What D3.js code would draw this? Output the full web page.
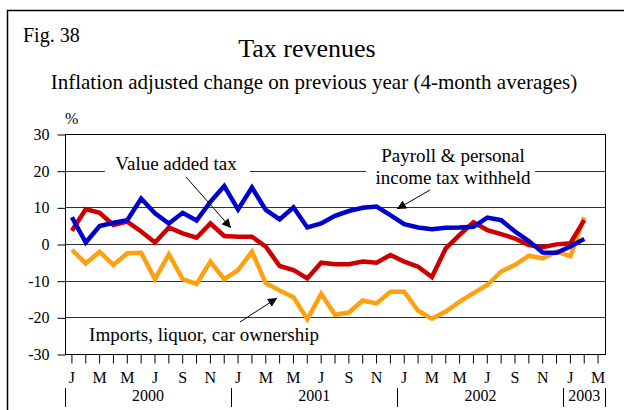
<!DOCTYPE html>
<html>
<head>
<meta charset="utf-8">
<script src="https://cdn.jsdelivr.net/npm/d3@7"></script>
<style>
  body { margin: 0; background: #fff; }
  svg text { font-family: "Liberation Serif", "Times New Roman", serif; fill: #000; }
</style>
</head>
<body>
<div class="chart"></div>
<script>
// months Jan 2000 .. Mar 2003
var monthLetters = ["J", "F", "M", "A", "M", "J", "J", "A", "S", "O", "N", "D"];
var years = ["2000", "2001", "2002", "2003"];
var yTicks = [-30, -20, -10, 0, 10, 20, 30];

// Payroll & personal income tax withheld (blue)
var payroll = [7.3, 0.4, 4.9, 5.8, 6.5, 12.4, 8.4, 5.6, 8.5, 6.4, 11.5, 15.8,
    9.4, 15.4, 9.3, 6.7, 10, 4.5, 5.6, 7.7, 9, 9.9, 10.2, 7.9,
    5.4, 4.5, 4, 4.4, 4.5, 4.7, 7.2, 6.5, 3.4, 0.8, -2.3, -2.4,
    -0.7, 1.4, null];

// Value added tax (red)
var vat = [3.6, 9.5, 8.5, 5.2, 6.1, 3.4, 0.4, 4.5, 2.9, 1.7, 5.6, 2.2,
    2, 2, -0.7, -6, -7.1, -9.4, -5.1, -5.5, -5.5, -4.8, -5.1, -3,
    -4.8, -6.2, -9, -1.2, 2.5, 5.9, 3.8, 2.7, 1.5, -0.3, -0.9, -0.1,
    0.2, 6.5, null];

// Imports, liquor, car ownership (orange)
var imports = [-1.6, -5.3, -2.1, -5.7, -2.5, -2.4, -9.6, -2.8, -9.6, -10.9, -4.8, -9.6,
    -7.1, -2.1, -10.7, -12.7, -14.5, -20.5, -13.6, -19.3, -18.7, -15.4, -16.2, -13,
    -13, -18.2, -20.4, -18.4, -15.7, -13.4, -11.2, -7.5, -5.7, -3.2, -3.9, -2.1,
    -3.3, 7.3, null];

var months = d3.range(payroll.length);
var serif = "'Liberation Serif', 'Times New Roman', serif";

var width = 624, height = 410;
var margin = { top: 134, right: 19, bottom: 56, left: 65 };

var svg = d3.select(".chart").append("svg")
    .attr("width", width)
    .attr("height", height);

// outer frame (right and bottom edges fall outside the picture)
svg.append("rect")
    .attr("x", 7.5).attr("y", 10.5)
    .attr("width", 640).attr("height", 420)
    .attr("fill", "none").attr("stroke", "#000").attr("stroke-width", 1.5);

svg.append("text").attr("x", 23).attr("y", 42)
    .attr("font-size", 20).text("Fig. 38");
svg.append("text").attr("x", 307).attr("y", 57)
    .attr("text-anchor", "middle").attr("font-size", 26).text("Tax revenues");
svg.append("text").attr("x", 314).attr("y", 89)
    .attr("text-anchor", "middle").attr("font-size", 21)
    .text("Inflation adjusted change on previous year (4-month averages)");
svg.append("text").attr("x", 65).attr("y", 124)
    .attr("font-size", 16).text("%");

var x = d3.scaleBand()
    .domain(months)
    .range([margin.left, width - margin.right]);

var y = d3.scaleLinear()
    .domain([-30, 30])
    .range([height - margin.bottom, margin.top]);

// gridlines
svg.append("g").selectAll("line")
    .data(yTicks.filter(function(d) { return d > -30 && d < 30; }))
    .enter().append("line")
    .attr("x1", margin.left).attr("x2", width - margin.right)
    .attr("y1", function(d) { return Math.round(y(d)) + 0.5; })
    .attr("y2", function(d) { return Math.round(y(d)) + 0.5; })
    .attr("stroke", "#333").attr("stroke-width", 1);

// plot frame
svg.append("rect")
    .attr("x", margin.left + 0.5).attr("y", margin.top + 0.5)
    .attr("width", width - margin.right - margin.left)
    .attr("height", height - margin.bottom - margin.top)
    .attr("fill", "none").attr("stroke", "#000");

// y axis (plain hyphen for negatives, as in the original)
var yAxis = svg.append("g")
    .attr("transform", "translate(" + (margin.left + 0.5) + ",0.5)")
    .call(d3.axisLeft(y).tickValues(yTicks).tickSize(8).tickPadding(8)
        .tickFormat(function(d) { return String(d); }));
yAxis.attr("font-family", null);
yAxis.select(".domain").remove();
yAxis.selectAll("text").attr("font-size", 16).style("font-family", serif);

// x axis: a tick each month, a letter every other month
var xAxis = svg.append("g")
    .attr("transform", "translate(0," + (height - margin.bottom + 0.5) + ")")
    .call(d3.axisBottom(x).tickSize(9).tickPadding(8)
        .tickFormat(function(d) { return d % 2 === 0 ? monthLetters[d % 12] : ""; }));
xAxis.attr("font-family", null);
xAxis.select(".domain").remove();
xAxis.selectAll("text").attr("font-size", 16).style("font-family", serif);

// year labels and separators
var yearSpans = years.map(function(yr, i) {
    var first = i * 12, last = Math.min(i * 12 + 11, months.length - 1);
    return { year: yr, x0: x(first), x1: x(last) + x.bandwidth() };
});

svg.append("g").selectAll("text")
    .data(yearSpans).enter().append("text")
    .attr("x", function(d) { return (d.x0 + d.x1) / 2; })
    .attr("y", 401)
    .attr("text-anchor", "middle").attr("font-size", 16)
    .text(function(d) { return d.year; });

var seps = yearSpans.map(function(d) { return d.x0; });
seps.push(yearSpans[yearSpans.length - 1].x1);
svg.append("g").selectAll("line")
    .data(seps).enter().append("line")
    .attr("x1", function(d) { return Math.round(d) + 0.5; })
    .attr("x2", function(d) { return Math.round(d) + 0.5; })
    .attr("y1", 388).attr("y2", 407)
    .attr("stroke", "#000");

// series
var line = d3.line()
    .defined(function(d) { return d !== null; })
    .x(function(d, i) { return x(i) + x.bandwidth() / 2; })
    .y(function(d) { return y(d); });

var series = [
    { values: imports, color: "#FFA010" },
    { values: vat, color: "#CC0000" },
    { values: payroll, color: "#0000CC" }
];

svg.append("g").selectAll("path")
    .data(series).enter().append("path")
    .attr("d", function(d) { return line(d.values); })
    .attr("fill", "none")
    .attr("stroke", function(d) { return d.color; })
    .attr("stroke-width", 4.5)
    .attr("stroke-linejoin", "miter");

// annotations
svg.append("defs").append("marker")
    .attr("id", "arrow")
    .attr("viewBox", "0 0 10 10")
    .attr("refX", 10).attr("refY", 5)
    .attr("markerWidth", 11).attr("markerHeight", 9)
    .attr("markerUnits", "userSpaceOnUse")
    .attr("orient", "auto")
    .append("path").attr("d", "M0,0L10,5L0,10Z").attr("fill", "#000");

var labelBoxes = [
    { x: 105, y: 158, w: 145, h: 20 },
    { x: 366, y: 163, w: 169, h: 14 }
];
svg.append("g").selectAll("rect")
    .data(labelBoxes).enter().append("rect")
    .attr("x", function(d) { return d.x; })
    .attr("y", function(d) { return d.y; })
    .attr("width", function(d) { return d.w; })
    .attr("height", function(d) { return d.h; })
    .attr("fill", "#fff");

var arrows = [
    [186, 177, 231, 228],
    [430, 190, 397, 209],
    [240, 322, 277, 298]
];
svg.append("g").selectAll("line")
    .data(arrows).enter().append("line")
    .attr("x1", function(d) { return d[0]; })
    .attr("y1", function(d) { return d[1]; })
    .attr("x2", function(d) { return d[2]; })
    .attr("y2", function(d) { return d[3]; })
    .attr("stroke", "#000").attr("stroke-width", 1)
    .attr("marker-end", "url(#arrow)");

var notes = [
    { text: "Value added tax", x: 176, y: 170 },
    { text: "Payroll & personal", x: 453, y: 162 },
    { text: "income tax withheld", x: 453, y: 184 },
    { text: "Imports, liquor, car ownership", x: 204, y: 341 }
];
svg.append("g").selectAll("text")
    .data(notes).enter().append("text")
    .attr("x", function(d) { return d.x; })
    .attr("y", function(d) { return d.y; })
    .attr("text-anchor", "middle")
    .attr("font-size", 19)
    .text(function(d) { return d.text; });
</script>
</body>
</html>
